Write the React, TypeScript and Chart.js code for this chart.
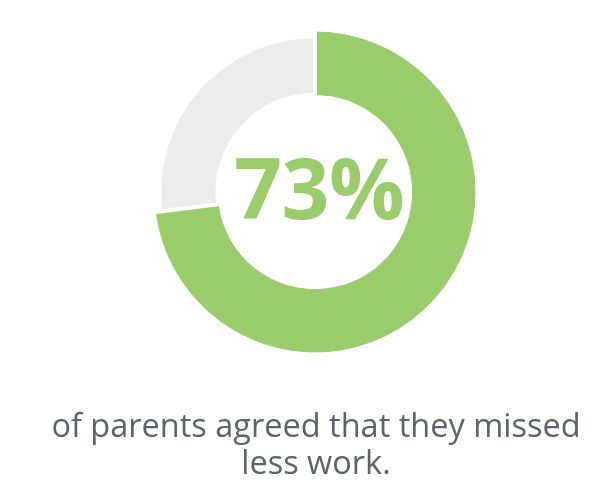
import React, { useEffect, useRef } from "react";
import { Chart, registerables } from "chart.js";

Chart.register(...registerables);

const categories = ["Agreed", "Did not agree"];
const values = [73, 27];
const centerLabel = "73%";
const captionLines = ["of parents agreed that they missed", "less work."];

const GREEN = "#9bcc6b";
const GRAY = "#ececec";
const TEXT = "#5e6269";
const CLEAR = "rgba(0,0,0,0)";

export default function App() {
  const canvasRef = useRef<HTMLCanvasElement | null>(null);

  useEffect(() => {
    const canvas = canvasRef.current;
    if (!canvas) return;
    const chart = new Chart(canvas, {
      type: "doughnut",
      data: {
        labels: categories,
        datasets: [
          {
            // thin outer band: only the highlighted share reaches it
            data: values,
            backgroundColor: [GREEN, CLEAR],
            borderColor: [GREEN, "#ffffff"],
            borderWidth: [1, 4],
            weight: 4,
          },
          {
            data: values,
            backgroundColor: [GREEN, GRAY],
            borderColor: [GREEN, "#ffffff"],
            borderWidth: [1, 4],
            weight: 58,
          },
        ],
      },
      options: {
        responsive: false,
        animation: false,
        devicePixelRatio: 1,
        events: [],
        radius: 160,
        cutout: "61%",
        layout: { padding: { left: 30, right: 5, top: 0, bottom: 112 } },
        plugins: {
          legend: { display: false },
          tooltip: { enabled: false },
          title: { display: false },
        },
      } as any,
    });
    return () => chart.destroy();
  }, []);

  return (
    <div
      style={{
        position: "fixed",
        left: 0,
        top: 0,
        width: 605,
        height: 496,
        background: "#ffffff",
        overflow: "hidden",
      }}
    >
      <canvas
        ref={canvasRef}
        width={605}
        height={496}
        style={{ position: "absolute", left: 0, top: 0, width: 605, height: 496 }}
      />
      <div
        style={{
          position: "absolute",
          left: 169,
          top: 145,
          width: 300,
          textAlign: "center",
          fontFamily: "'Open Sans', sans-serif",
          fontWeight: 700,
          fontSize: 84,
          lineHeight: "84px",
          color: GREEN,
          letterSpacing: -0.5,
          whiteSpace: "nowrap",
        }}
      >
        {centerLabel}
      </div>
      <div
        style={{
          position: "absolute",
          left: 16,
          top: 406,
          width: 600,
          textAlign: "center",
          fontFamily: "'Open Sans', sans-serif",
          fontWeight: 400,
          fontSize: 32.5,
          lineHeight: "37px",
          color: TEXT,
          whiteSpace: "nowrap",
        }}
      >
        {captionLines.map((l, i) => (
          <div key={i}>{l}</div>
        ))}
      </div>
    </div>
  );
}
